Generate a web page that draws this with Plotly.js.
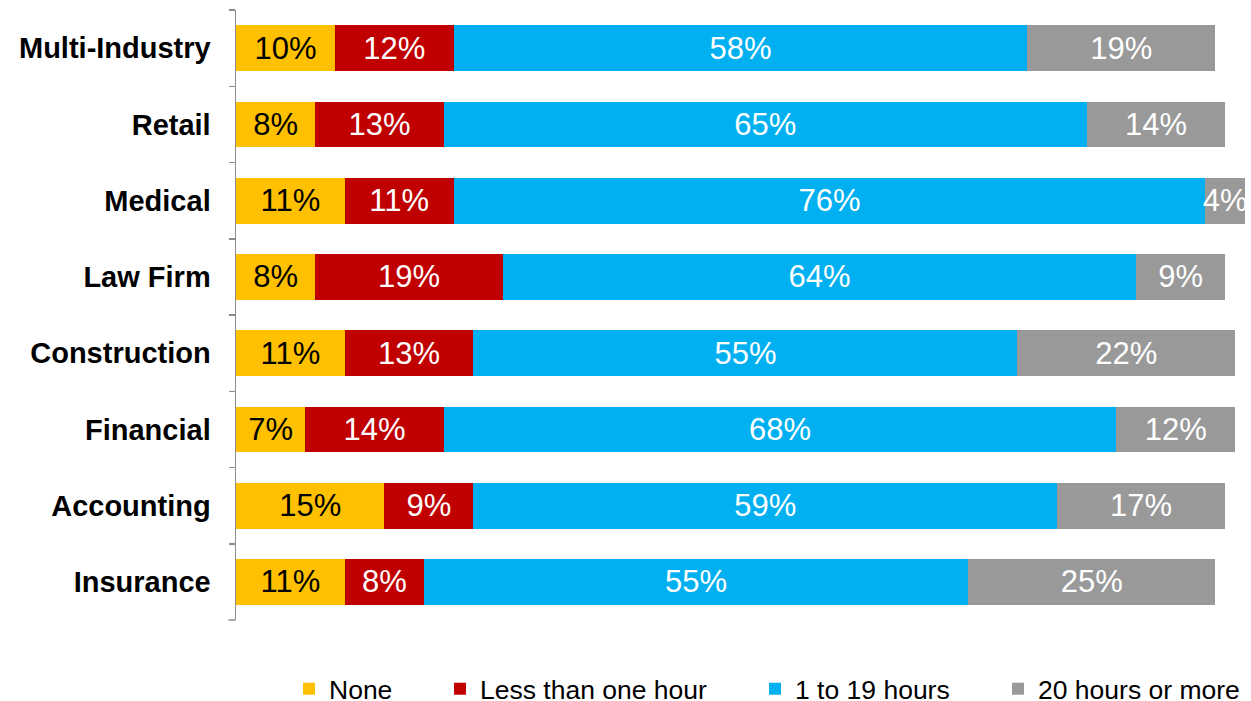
<!DOCTYPE html>
<html>
<head>
<meta charset="utf-8">
<script src="https://cdn.plot.ly/plotly-3.0.1.min.js"></script>
<style>html,body{margin:0;padding:0;background:#fff}#chart{width:1251px;height:701px}</style>
</head>
<body>
<div id="chart"></div>
<script>
const categories = ["Multi-Industry","Retail","Medical","Law Firm","Construction","Financial","Accounting","Insurance"];
const seriesNames = ["None","Less than one hour","1 to 19 hours","20 hours or more"];
const none = [10, 8, 11, 8, 11, 7, 15, 11];
const lessThanOneHour = [12, 13, 11, 19, 13, 14, 9, 8];
const oneTo19Hours = [58, 65, 76, 64, 55, 68, 59, 55];
const twentyOrMore = [19, 14, 4, 9, 22, 12, 17, 25];

const seriesValues = [none, lessThanOneHour, oneTo19Hours, twentyOrMore];
const colors = ["#FFC000", "#C00000", "#00B0F0", "#999999"];
const textColors = ["#000000", "#FFFFFF", "#FFFFFF", "#FFFFFF"];
const legendIds = ["legend", "legend2", "legend3", "legend4"];
const legendX = [289, 440, 755, 998];

const traces = seriesValues.map((vals, i) => ({
  type: "bar",
  orientation: "h",
  name: seriesNames[i],
  x: vals,
  y: categories,
  marker: {color: colors[i], line: {width: 0}},
  text: vals.map(v => v + "%"),
  textposition: "inside",
  insidetextanchor: "middle",
  textangle: 0,
  constraintext: "none",
  cliponaxis: false,
  textfont: {family: "Liberation Sans, Arial, sans-serif", size: 31, color: textColors[i]},
  hoverinfo: "x+y+name",
  legend: legendIds[i]
}));

const legendBase = (i) => ({
  xref: "container", yref: "container",
  x: legendX[i] / 1251, y: 1 - 689 / 701,
  xanchor: "left", yanchor: "middle",
  orientation: "h",
  bgcolor: "rgba(0,0,0,0)",
  font: {family: "Liberation Sans, Arial, sans-serif", size: 26.5, color: "#000"},
  itemwidth: 30
});

const layout = {
  width: 1251, height: 701,
  margin: {l: 236, r: 6, t: 10, b: 81},
  barmode: "stack",
  bargap: 0.4,
  paper_bgcolor: "#fff",
  plot_bgcolor: "#fff",
  showlegend: true,
  xaxis: {range: [0, 102], showticklabels: false, showgrid: false, zeroline: false, showline: false, fixedrange: true},
  yaxis: {
    type: "category",
    categoryorder: "array",
    categoryarray: categories,
    range: [7.5, -0.5],
    showline: true, linecolor: "#8c8c8c", linewidth: 1.5,
    ticks: "outside", tickson: "boundaries", ticklen: 6, tickcolor: "#8c8c8c", tickwidth: 1.5,
    showgrid: false, zeroline: false,
    ticklabelstandoff: 18,
    tickfont: {family: "Liberation Sans, Arial, sans-serif", size: 29, color: "#000", weight: "bold"}
  },
  shapes: [{
    type: "line", xref: "paper", yref: "paper", xsizemode: "pixel", xanchor: 0,
    x0: -7.5, x1: -0.5, y0: 0, y1: 0,
    line: {color: "#8c8c8c", width: 1.5}
  }],
  legend: legendBase(0),
  legend2: legendBase(1),
  legend3: legendBase(2),
  legend4: legendBase(3)
};

Plotly.newPlot("chart", traces, layout, {displayModeBar: false, staticPlot: true});
</script>
</body>
</html>
